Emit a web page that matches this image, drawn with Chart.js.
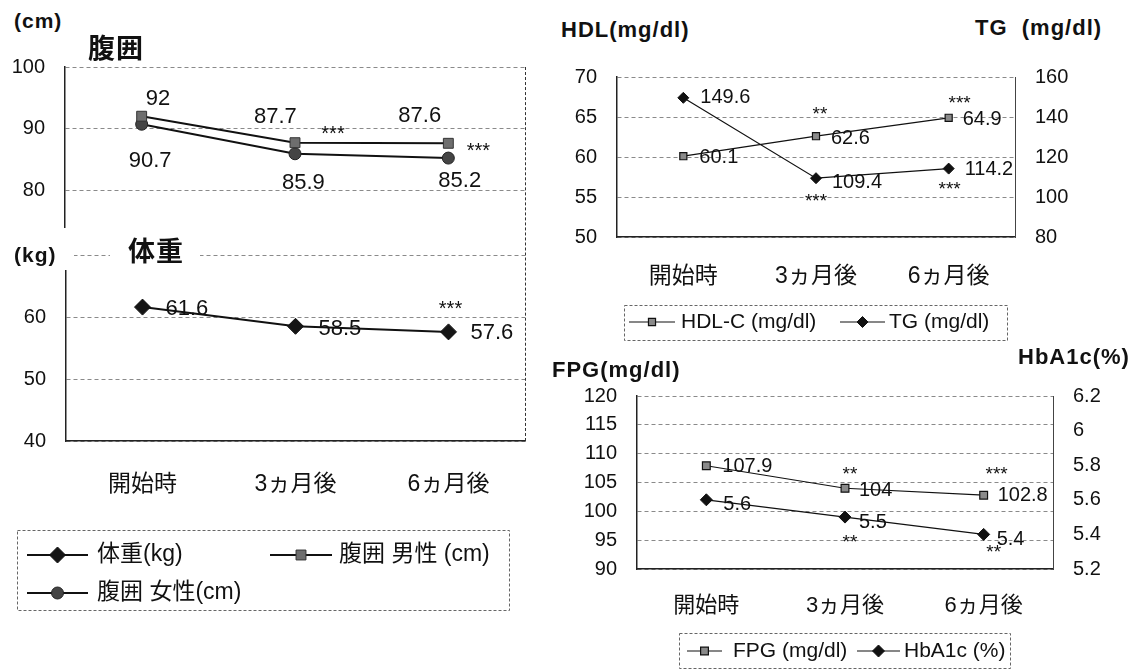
<!DOCTYPE html>
<html lang="ja">
<head>
<meta charset="utf-8">
<title>腹囲・体重・HDL/TG・FPG/HbA1c の推移</title>
<script src="https://cdn.jsdelivr.net/npm/chart.js@4.4.1/dist/chart.umd.min.js"></script>
<style>
  html, body { margin: 0; padding: 0; background: #fff; }
  #page { position: relative; width: 1137px; height: 669px; overflow: hidden;
          font-family: 'Liberation Sans', 'Noto Sans CJK JP', sans-serif; color: #111; }
  #page canvas { position: absolute; }
  .ttl { position: absolute; font-weight: bold; font-size: 22px; letter-spacing: 1px;
         white-space: pre; line-height: 1; }
  .big { font-size: 27px; }
  .mask { position: absolute; background: #fff; }
  #frameRight { position: absolute; left: 525px; top: 67px; height: 374px; border-left: 1px dashed #333; }
</style>
</head>
<body>
<div id="page">
  <canvas id="waistChart" width="545" height="195" style="left:0;top:40px"></canvas>
  <canvas id="weightChart" width="545" height="390" style="left:0;top:230px"></canvas>
  <canvas id="lipidChart" width="550" height="285" style="left:540px;top:60px"></canvas>
  <canvas id="glucoseChart" width="580" height="294" style="left:540px;top:375px"></canvas>

  <div id="frameRight"></div>
  <div class="ttl" style="left:14px;top:10px;font-size:21px">(cm)</div>
  <div class="ttl big" style="left:88px;top:36px">腹囲</div>
  <div class="mask" style="left:0;top:240px;width:74px;height:30px">
    <div class="ttl" style="left:14px;top:4px;font-size:21px">(kg)</div>
  </div>
  <div class="mask" style="left:110px;top:236px;width:90px;height:32px">
    <div class="ttl big" style="left:18px;top:3px">体重</div>
  </div>
  <div class="ttl" style="left:561px;top:19px">HDL(mg/dl)</div>
  <div class="ttl" style="left:975px;top:17px">TG  (mg/dl)</div>
  <div class="ttl" style="left:552px;top:359px">FPG(mg/dl)</div>
  <div class="ttl" style="left:1018px;top:346px">HbA1c(%)</div>
</div>

<script>
// values
const periods = ['開始時', '3ヵ月後', '6ヵ月後'];
const waistMale = [92, 87.7, 87.6];
const waistFemale = [90.7, 85.9, 85.2];
const weight = [61.6, 58.5, 57.6];
const hdl = [60.1, 62.6, 64.9];
const tg = [149.6, 109.4, 114.2];
const fpg = [107.9, 104, 102.8];
const hba1c = [5.6, 5.5, 5.4];

// axis ticks
const waistTicks = [80, 90, 100];
const weightTicks = [40, 50, 60, 70];
const hdlTicks = [50, 55, 60, 65, 70];
const tgTicks = [80, 100, 120, 140, 160];
const fpgTicks = [90, 95, 100, 105, 110, 115, 120];
const hba1cTicks = [5.2, 5.4, 5.6, 5.8, 6.0, 6.2];

// significance marks
const waistMaleStars = ['', '***', '***'];
const weightStars = ['', '', '***'];
const hdlStars = ['', '**', '***'];
const tgStars = ['', '***', '***'];
const fpgStars = ['', '**', '***'];
const hba1cStars = ['', '**', '**'];

const FONT = "'Liberation Sans', 'Noto Sans CJK JP', sans-serif";

function drawMarker(ctx, ds, x, y) {
    const r = ds.pointRadius;
    ctx.save();
    ctx.fillStyle = ds.pointBackgroundColor;
    ctx.strokeStyle = ds.pointBorderColor;
    ctx.lineWidth = ds.pointBorderWidth;
    ctx.beginPath();
    if (ds.pointStyle === 'circle') {
        ctx.arc(x, y, r, 0, Math.PI * 2);
    } else if (ds.pointStyle === 'rect') {
        const s = r * Math.SQRT1_2;
        ctx.rect(x - s, y - s, 2 * s, 2 * s);
    } else {
        ctx.moveTo(x, y - r); ctx.lineTo(x + r, y); ctx.lineTo(x, y + r); ctx.lineTo(x - r, y);
        ctx.closePath();
    }
    ctx.fill();
    ctx.stroke();
    ctx.restore();
}

// value labels and asterisks next to the points
function pointText(valueSize, starSize) {
    return {
        id: 'pointText',
        afterDatasetsDraw(chart) {
            const ctx = chart.ctx;
            ctx.save();
            ctx.fillStyle = '#111';
            ctx.textBaseline = 'middle';
            chart.data.datasets.forEach((ds, i) => {
                chart.getDatasetMeta(i).data.forEach((pt, j) => {
                    if (ds.valueOffsets) {
                        const [dx, dy] = ds.valueOffsets[j];
                        ctx.font = valueSize + 'px ' + FONT;
                        ctx.textAlign = 'left';
                        ctx.fillText(String(ds.data[j]), pt.x + dx, pt.y + dy);
                    }
                    if (ds.stars && ds.stars[j]) {
                        const [dx, dy] = ds.starOffsets[j];
                        ctx.font = starSize + 'px ' + FONT;
                        ctx.textAlign = 'center';
                        ctx.fillText(ds.stars[j], pt.x + dx, pt.y + dy + starSize * 0.22);
                    }
                });
            });
            ctx.restore();
        }
    };
}

// dashed legend box drawn inside the canvas
function boxLegend(cfg) {
    return {
        id: 'boxLegend',
        afterDraw(chart) {
            const ctx = chart.ctx;
            const [ox, oy] = cfg.origin;
            const [x1, y1, x2, y2] = cfg.box;
            ctx.save();
            ctx.setLineDash([3, 2]);
            ctx.strokeStyle = '#666';
            ctx.lineWidth = 1;
            ctx.strokeRect(x1 - ox + 0.5, y1 - oy + 0.5, x2 - x1, y2 - y1);
            ctx.setLineDash([]);
            cfg.items.forEach(it => {
                const y = it.y - oy;
                ctx.strokeStyle = '#111';
                ctx.lineWidth = it.ds.borderWidth;
                ctx.beginPath();
                ctx.moveTo(it.x1 - ox, y);
                ctx.lineTo(it.x2 - ox, y);
                ctx.stroke();
                drawMarker(ctx, it.ds, (it.x1 + it.x2) / 2 - ox, y);
                ctx.fillStyle = '#111';
                ctx.font = cfg.font + 'px ' + FONT;
                ctx.textAlign = 'left';
                ctx.textBaseline = 'middle';
                ctx.fillText(it.ds.label, it.tx - ox, y);
            });
            ctx.restore();
        }
    };
}

const fixWidth = w => s => { s.width = w; s.paddingTop = 0; s.paddingBottom = 0; };
const fixHeight = h => s => { s.height = h; s.paddingLeft = 0; s.paddingRight = 0; };
const setTicks = list => s => { s.ticks = list.map(v => ({ value: v })); };

function yAxis(min, max, ticks, width, size, extra) {
    return Object.assign({
        min: min, max: max,
        afterBuildTicks: setTicks(ticks),
        afterFit: fixWidth(width),
        grid: { color: '#8a8a8a', lineWidth: 1, drawTicks: false },
        border: { color: '#222', width: 1.5, dash: [4, 3] },
        ticks: { padding: 20, color: '#111', font: { family: FONT, size: size } }
    }, extra || {});
}

function xAxis(height, size, pad, show) {
    return {
        offset: true,
        afterFit: fixHeight(height),
        grid: { display: false },
        border: { display: show, color: '#222', width: 1.5 },
        ticks: { display: show, padding: pad, color: '#111', font: { family: FONT, size: size } }
    };
}

const base = {
    responsive: false,
    animation: false,
    plugins: { legend: { display: false }, tooltip: { enabled: false } }
};

// datasets
const waistMaleDs = {
    label: '腹囲 男性 (cm)', data: waistMale,
    borderColor: '#111', borderWidth: 2,
    pointStyle: 'rect', pointRadius: 7, pointBackgroundColor: '#6e6e6e', pointBorderColor: '#333', pointBorderWidth: 1,
    valueOffsets: [[4, -17], [-41, -26], [-50, -27]],
    stars: waistMaleStars, starOffsets: [null, [38, -13], [30, 4]]
};
const waistFemaleDs = {
    label: '腹囲 女性(cm)', data: waistFemale,
    borderColor: '#111', borderWidth: 2,
    pointStyle: 'circle', pointRadius: 6, pointBackgroundColor: '#444', pointBorderColor: '#222', pointBorderWidth: 1,
    valueOffsets: [[-13, 37], [-13, 29], [-10, 23]]
};
const weightDs = {
    label: '体重(kg)', data: weight,
    borderColor: '#111', borderWidth: 2,
    pointStyle: 'rectRot', pointRadius: 8, pointBackgroundColor: '#151515', pointBorderColor: '#111', pointBorderWidth: 1,
    valueOffsets: [[23, 2], [23, 3], [22, 1]],
    stars: weightStars, starOffsets: [null, null, [2, -27]]
};
const hdlDs = {
    label: 'HDL-C (mg/dl)', data: hdl, yAxisID: 'y',
    borderColor: '#111', borderWidth: 1.2,
    pointStyle: 'rect', pointRadius: 5, pointBackgroundColor: '#8a8a8a', pointBorderColor: '#111', pointBorderWidth: 1.2,
    valueOffsets: [[16, 1], [15, 2], [14, 2]],
    stars: hdlStars, starOffsets: [null, [4, -26], [11, -18]]
};
const tgDs = {
    label: 'TG (mg/dl)', data: tg, yAxisID: 'y1',
    borderColor: '#111', borderWidth: 1.2,
    pointStyle: 'rectRot', pointRadius: 5.5, pointBackgroundColor: '#111', pointBorderColor: '#111', pointBorderWidth: 1,
    valueOffsets: [[17, 0], [16, 4], [16, 1]],
    stars: tgStars, starOffsets: [null, [0, 19], [1, 17]]
};
const fpgDs = {
    label: 'FPG (mg/dl)', data: fpg, yAxisID: 'y',
    borderColor: '#111', borderWidth: 1.2,
    pointStyle: 'rect', pointRadius: 5.5, pointBackgroundColor: '#8a8a8a', pointBorderColor: '#111', pointBorderWidth: 1.2,
    valueOffsets: [[16, 1], [14, 2], [14, 0]],
    stars: fpgStars, starOffsets: [null, [5, -18], [13, -25]]
};
const hba1cDs = {
    label: 'HbA1c (%)', data: hba1c, yAxisID: 'y1',
    borderColor: '#111', borderWidth: 1.2,
    pointStyle: 'rectRot', pointRadius: 6, pointBackgroundColor: '#111', pointBorderColor: '#111', pointBorderWidth: 1,
    valueOffsets: [[17, 5], [14, 5], [13, 5]],
    stars: hba1cStars, starOffsets: [null, [5, 21], [10, 14]]
};

// waist circumference (upper left)
new Chart(document.getElementById('waistChart'), {
    type: 'line',
    data: { labels: periods, datasets: [waistMaleDs, waistFemaleDs] },
    options: Object.assign({}, base, {
        layout: { padding: { left: 0, top: 27, right: 20, bottom: 0 } },
        scales: {
            x: xAxis(7, 23, 0, false),
            y: yAxis(74, 100, waistTicks, 65, 20, {})
        }
    }),
    plugins: [pointText(22, 20)]
});

// body weight (lower left)
new Chart(document.getElementById('weightChart'), {
    type: 'line',
    data: { labels: periods, datasets: [weightDs] },
    options: Object.assign({}, base, {
        layout: { padding: { left: 0, top: 25, right: 20, bottom: 119 } },
        scales: {
            x: xAxis(60, 23, 22, true),
            y: yAxis(40, 70, weightTicks, 66, 20, {
                ticks: {
                    padding: 20, color: '#111', font: { family: FONT, size: 20 },
                    callback: (v, i, arr) => (i === arr.length - 1 ? '' : v)
                }
            })
        }
    }),
    plugins: [pointText(22, 20), boxLegend({
        origin: [0, 230], box: [17, 530, 509, 610], font: 23,
        items: [
            { ds: weightDs, x1: 27, x2: 88, y: 555, tx: 97 },
            { ds: waistMaleDs, x1: 270, x2: 332, y: 555, tx: 339 },
            { ds: waistFemaleDs, x1: 27, x2: 88, y: 593, tx: 97 }
        ]
    })]
});

// HDL / TG (upper right)
new Chart(document.getElementById('lipidChart'), {
    type: 'line',
    data: { labels: periods, datasets: [hdlDs, tgDs] },
    options: Object.assign({}, base, {
        layout: { padding: { left: 0, top: 17, right: 0, bottom: 58 } },
        scales: {
            x: xAxis(50, 23, 18, true),
            y: yAxis(50, 70, hdlTicks, 77, 20, {}),
            y1: yAxis(80, 160, tgTicks, 75, 20, {
                position: 'right',
                grid: { drawOnChartArea: false, drawTicks: false },
                border: { color: '#444', width: 1 }
            })
        }
    }),
    plugins: [pointText(20, 19), boxLegend({
        origin: [540, 60], box: [624, 305, 1007, 340], font: 21,
        items: [
            { ds: hdlDs, x1: 629, x2: 675, y: 322, tx: 681 },
            { ds: tgDs, x1: 840, x2: 885, y: 322, tx: 889 }
        ]
    })]
});

// FPG / HbA1c (lower right)
new Chart(document.getElementById('glucoseChart'), {
    type: 'line',
    data: { labels: periods, datasets: [fpgDs, hba1cDs] },
    options: Object.assign({}, base, {
        layout: { padding: { left: 0, top: 21, right: 0, bottom: 50 } },
        scales: {
            x: xAxis(50, 22, 16, true),
            y: yAxis(90, 120, fpgTicks, 97, 20, {}),
            y1: yAxis(5.2, 6.2, hba1cTicks, 67, 20, {
                position: 'right',
                grid: { drawOnChartArea: false, drawTicks: false },
                border: { color: '#444', width: 1 },
                ticks: {
                    padding: 20, color: '#111', font: { family: FONT, size: 20 },
                    callback: v => String(Math.round(v * 10) / 10)
                }
            })
        }
    }),
    plugins: [pointText(20, 19), boxLegend({
        origin: [540, 375], box: [679, 633, 1010, 668], font: 21,
        items: [
            { ds: fpgDs, x1: 687, x2: 722, y: 651, tx: 733 },
            { ds: hba1cDs, x1: 857, x2: 900, y: 651, tx: 904 }
        ]
    })]
});
</script>
</body>
</html>
